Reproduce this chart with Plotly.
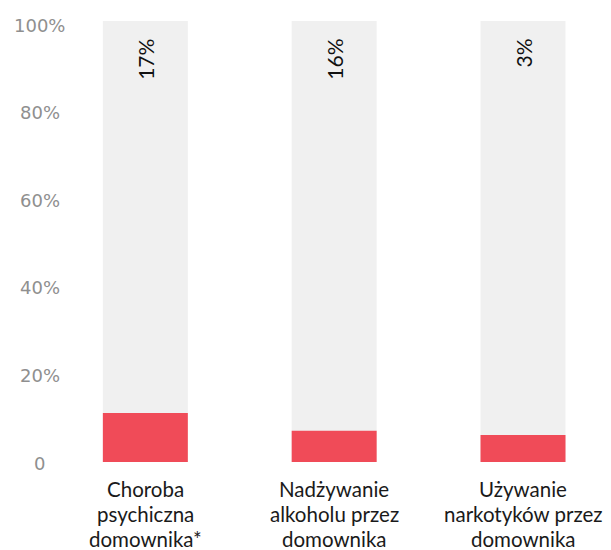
import plotly.graph_objects as go

categories = ["Choroba<br>psychiczna<br>domownika*",
              "Nadżywanie<br>alkoholu przez<br>domownika",
              "Używanie<br>narkotyków przez<br>domownika"]
red_values = [11.1, 7.1, 6.1]
full_values = [100, 100, 100]
share_labels = ["17%", "16%", "3%"]
y_ticks = [0, 20, 40, 60, 80, 100]
y_tick_text = ["0", "20%", "40%", "60%", "80%", "100%"]

x_pos = list(range(len(categories)))
font_family = "Lato, 'Open Sans', sans-serif"
tick_family = "'DejaVu Sans ExtraLight', 'DejaVu Sans', sans-serif"

fig = go.Figure()
fig.add_trace(go.Bar(x=x_pos, y=full_values, width=0.45, marker_color="#F0F0F0",
                     marker_line_width=0, hoverinfo="skip"))
fig.add_trace(go.Bar(x=x_pos, y=red_values, width=0.45, marker_color="#F04B58",
                     marker_line_width=0))

# rotated share labels near the top of each bar
for xi, lab in zip(x_pos, share_labels):
    fig.add_annotation(x=xi, y=100, text=lab, showarrow=False, textangle=-90,
                       xanchor="center", yanchor="top", yshift=-16,
                       font=dict(family=font_family, size=21, color="#111111"))

# category names under the bars, one annotation per line for tight spacing
for xi, cat in zip(x_pos, categories):
    for k, line in enumerate(cat.split("<br>")):
        fig.add_annotation(x=xi, y=0, xref="x", yref="paper", text=line,
                           showarrow=False, xanchor="center", yanchor="middle",
                           yshift=-27 - 25 * k,
                           font=dict(family=font_family, size=20.5, color="#1a1a1a"))

# centred value-axis labels in the left margin
for val, txt in zip(y_ticks, y_tick_text):
    fig.add_annotation(x=-0.0559, xref="paper", y=val, yref="y", text=txt,
                       showarrow=False, xanchor="center", yanchor="middle",
                       yshift=-2 - 0.03 * (val - 30),
                       font=dict(family=tick_family, size=18, color="#8F8F8F"))

fig.update_layout(
    width=611, height=550,
    margin=dict(l=70, r=0, t=21, b=88),
    barmode="overlay",
    showlegend=False,
    plot_bgcolor="white", paper_bgcolor="white",
    xaxis=dict(range=[-0.399, 2.466], tickvals=x_pos, showticklabels=False,
               showgrid=False, zeroline=False, showline=False, ticks=""),
    yaxis=dict(range=[0, 100], tickvals=y_ticks, showticklabels=False,
               showgrid=False, zeroline=False, showline=False, ticks=""),
)

fig.write_html("out.html")
